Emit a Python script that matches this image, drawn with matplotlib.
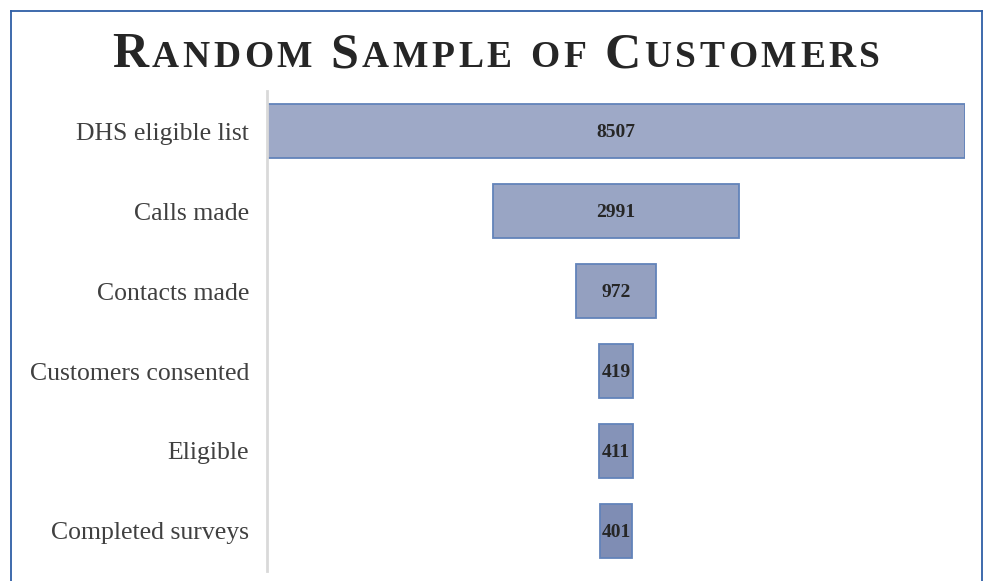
import numpy as np
import matplotlib
matplotlib.use("Agg")
import matplotlib.pyplot as plt
from matplotlib.lines import Line2D

stages = ["DHS eligible list", "Calls made", "Contacts made",
          "Customers consented", "Eligible", "Completed surveys"]
counts = [8507, 2991, 972, 419, 411, 401]
bar_colors = ["#9EA9C7", "#99A5C4", "#94A0C0", "#8B99BB", "#8593B8", "#7F8DB4"]

SERIF = ["Liberation Serif", "DejaVu Serif"]

fig = plt.figure(figsize=(9.85, 5.81), dpi=100)
ax = fig.add_axes([267 / 985, 1 - 571 / 581, (965 - 267) / 985, 480 / 581])

top = max(counts)
y = np.arange(len(stages))
lefts = [(top - c) / 2 for c in counts]
ax.barh(y, counts, left=lefts, height=0.67, color=bar_colors,
        edgecolor="#6283BA", linewidth=1.3)
for yi, l, c in zip(y, lefts, counts):
    ax.text(l + c / 2, yi + 0.02, f"{c}", ha="center", va="center", fontsize=14,
            fontweight="bold", color="#262626", family=SERIF)

ax.set_xlim(0, top)
ax.set_ylim(len(stages) - 0.5, -0.5)
ax.set_yticks(y)
ax.set_yticklabels(stages, family=SERIF, fontsize=18.5, color="#404040")
ax.tick_params(axis="y", length=0, pad=13)
ax.set_xticks([])
for s in ["top", "right", "bottom"]:
    ax.spines[s].set_visible(False)
ax.spines["left"].set_color("#D9D9D9")
ax.spines["left"].set_linewidth(2)

# figure frame (blue border)
frame = "#2F5FA6"
fig.add_artist(Line2D([10.5 / 985, 10.5 / 985], [0, 1 - 10.5 / 581], color=frame, lw=1.3))
fig.add_artist(Line2D([10.5 / 985, 982 / 985], [1 - 10.5 / 581, 1 - 10.5 / 581], color=frame, lw=1.3))
fig.add_artist(Line2D([982 / 985, 982 / 985], [0, 1 - 10.5 / 581], color=frame, lw=1.3))

# small-caps title, laid out character by character
title_parts = [("R", 36), ("ANDOM", 27), (" ", 27), ("S", 36), ("AMPLE", 27),
               (" ", 27), ("OF", 27), (" ", 27), ("C", 36), ("USTOMERS", 27)]
tracking = 3.6  # px between letters
renderer = fig.canvas.get_renderer()
chars = []
for txt, size in title_parts:
    for ch in txt:
        chars.append((ch, size))
widths = []
for ch, size in chars:
    if ch == " ":
        widths.append(size * 100 / 72 * 0.3)
        continue
    t = fig.text(0, 0, ch, fontsize=size, fontweight="bold", family=SERIF)
    widths.append(t.get_window_extent(renderer).width)
    t.remove()
total = sum(widths) + tracking * (len(chars) - 1)
x = 496 - total / 2
baseline = 1 - 67 / 581
for (ch, size), w in zip(chars, widths):
    if ch != " ":
        fig.text(x / 985, baseline, ch, fontsize=size, fontweight="bold",
                 family=SERIF, color="#262626", va="baseline")
    x += w + tracking

fig.savefig("out.png", dpi=100)
